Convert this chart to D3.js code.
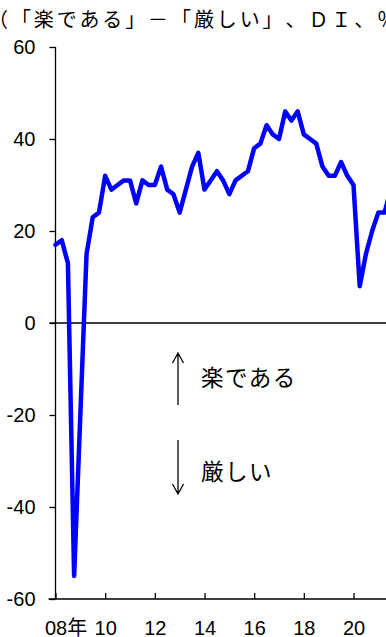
<!DOCTYPE html>
<html lang="ja">
<head>
<meta charset="utf-8">
<script src="https://cdn.jsdelivr.net/npm/d3@7"></script>
<style>
  html, body { margin: 0; padding: 0; background: #fff; }
  svg { display: block; overflow: hidden; text-spacing-trim: space-all; }
  .num { font-family: "Liberation Sans", "Noto Sans CJK JP", sans-serif; }
  .jp { font-family: "Noto Sans CJK JP", sans-serif; text-spacing-trim: space-all; }
</style>
</head>
<body>
<svg id="chart" width="386" height="637"></svg>
<script>
// 資金繰り判断DI（「楽である」－「厳しい」）、四半期
const startYear = 2008;           // first quarter plotted: 2008 Q1
const diValues = [
  17, 18, 13, -55,                // 2008
  -20, 15, 23, 24,                // 2009
  32, 29, 30, 31,                 // 2010
  31, 26, 31, 30,                 // 2011
  30, 34, 29, 28,                 // 2012
  24, 29, 34, 37,                 // 2013
  29, 31, 33, 31,                 // 2014
  28, 31, 32, 33,                 // 2015
  38, 39, 43, 41,                 // 2016
  40, 46, 44, 46,                 // 2017
  41, 40, 39, 34,                 // 2018
  32, 32, 35, 32,                 // 2019
  30, 8, 15, 20,                  // 2020
  24, 24, 29                      // 2021
];
const yTicks = [-60, -40, -20, 0, 20, 40, 60];
const xTicks = [2008, 2010, 2012, 2014, 2016, 2018, 2020];
const xTickLabels = ["08年", "10", "12", "14", "16", "18", "20"];
const titleText = "（「楽である」－「厳しい」、ＤＩ、％ポイント）";
const upLabel = "楽である";
const downLabel = "厳しい";

const W = 386, H = 637;
const svg = d3.select("#chart");

const x = d3.scaleLinear().domain([2008, 2020]).range([55.5, 353.5]);
const y = d3.scaleLinear().domain([-60, 60]).range([599, 47]);

const series = diValues.map((v, i) => ({ t: startYear + i / 4, v }));

// title
svg.append("text")
  .attr("class", "jp")
  .attr("x", -12).attr("y", 27)
  .attr("font-size", 20)
  .attr("letter-spacing", 2.9)
  .attr("fill", "#000")
  .text(titleText);

// y axis
const yAxis = svg.append("g")
  .attr("class", "num")
  .attr("transform", `translate(${x(2008)},0)`)
  .call(d3.axisLeft(y).tickValues(yTicks).tickSizeInner(6).tickSizeOuter(0).tickPadding(14)
    .tickFormat(d => d < 0 ? "-" + Math.abs(d) : String(d)));
yAxis.select(".domain").remove();
yAxis.selectAll(".tick line").attr("stroke", "#000").attr("stroke-width", 1.3);
yAxis.selectAll(".tick text").attr("font-size", 20).attr("fill", "#000")
  .attr("font-family", "'Liberation Sans', sans-serif");

// x axis
const xAxis = svg.append("g")
  .attr("class", "num")
  .attr("transform", `translate(0,${y(-60)})`)
  .call(d3.axisBottom(x).tickValues(xTicks).tickSizeInner(-6).tickSizeOuter(0).tickPadding(22)
    .tickFormat((d, i) => xTickLabels[i]));
xAxis.select(".domain").remove();
xAxis.selectAll(".tick line").attr("stroke", "#000").attr("stroke-width", 1.3);
xAxis.selectAll(".tick text").attr("font-size", 20).attr("fill", "#000")
  .attr("font-family", "'Liberation Sans', 'Noto Sans CJK JP', sans-serif");
xAxis.selectAll(".tick text").filter((d, i) => i === 0)
  .attr("text-anchor", "start").attr("dx", -11);

// axis lines and zero line
svg.append("line")
  .attr("x1", x(2008)).attr("x2", x(2008))
  .attr("y1", y(60)).attr("y2", y(-60))
  .attr("stroke", "#000").attr("stroke-width", 1.3);
svg.append("line")
  .attr("x1", x(2008) - 7).attr("x2", W)
  .attr("y1", y(-60)).attr("y2", y(-60))
  .attr("stroke", "#000").attr("stroke-width", 1.3);
svg.append("line")
  .attr("x1", x(2008) - 6).attr("x2", W)
  .attr("y1", y(0)).attr("y2", y(0))
  .attr("stroke", "#000").attr("stroke-width", 1.3);

// DI line
const line = d3.line().x(d => x(d.t)).y(d => y(d.v));
svg.append("path")
  .datum(series)
  .attr("d", line)
  .attr("fill", "none")
  .attr("stroke", "#0000ff")
  .attr("stroke-width", 4.5)
  .attr("stroke-linejoin", "round")
  .attr("stroke-linecap", "round");

// direction arrows with labels
const ax = 178;
function arrow(yFrom, yTo) {
  const dir = yTo < yFrom ? 1 : -1;
  svg.append("path")
    .attr("d", `M${ax},${yFrom}L${ax},${yTo}M${ax - 5.5},${yTo + dir * 10}L${ax},${yTo}L${ax + 5.5},${yTo + dir * 10}`)
    .attr("fill", "none").attr("stroke", "#000").attr("stroke-width", 1.3);
}
arrow(405, 353);
arrow(440, 494);
svg.append("text").attr("class", "jp")
  .attr("x", 201).attr("y", 386).attr("font-size", 22.5).attr("letter-spacing", 1.5)
  .text(upLabel);
svg.append("text").attr("class", "jp")
  .attr("x", 201).attr("y", 480).attr("font-size", 22.5).attr("letter-spacing", 1.5)
  .text(downLabel);
</script>
</body>
</html>
